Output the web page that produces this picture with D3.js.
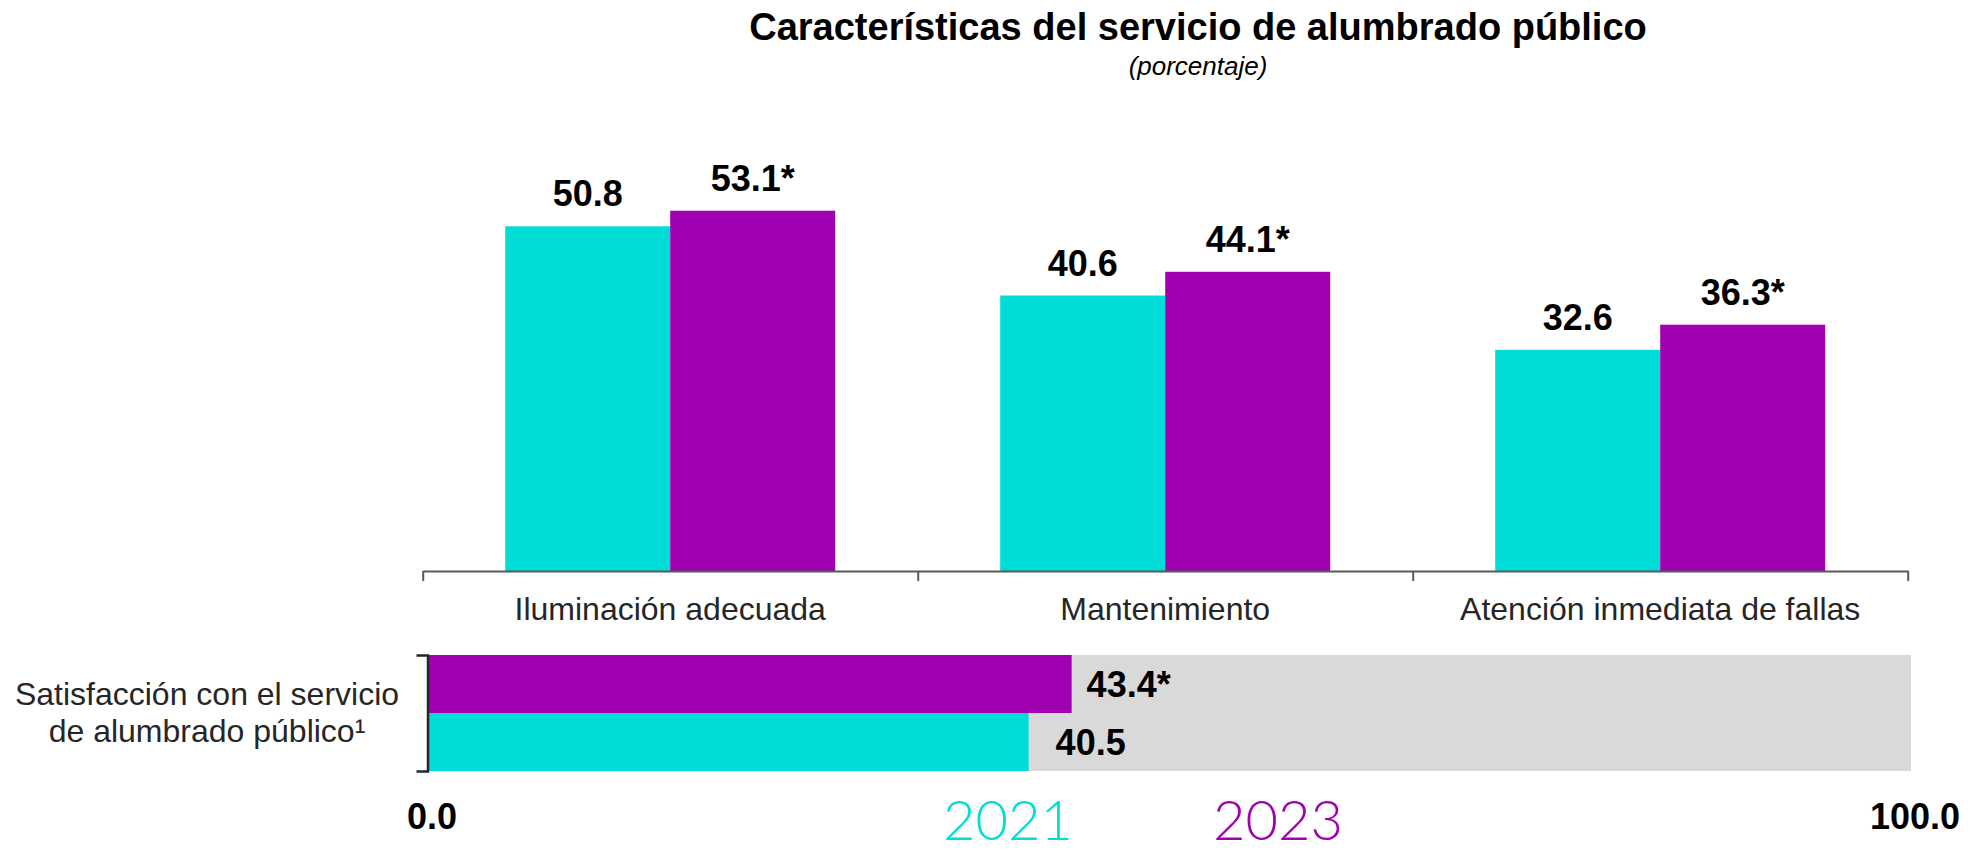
<!DOCTYPE html>
<html>
<head>
<meta charset="utf-8">
<script src="https://cdn.jsdelivr.net/npm/d3@7"></script>
<style>
  html, body { margin: 0; padding: 0; background: #fff; }
  svg { display: block; }
</style>
</head>
<body>
<svg id="chart" width="1974" height="852"></svg>
<script>
// ---- data ----
const title = "Características del servicio de alumbrado público";
const subtitle = "(porcentaje)";
const categories = ["Iluminación adecuada", "Mantenimiento", "Atención inmediata de fallas"];
const years = ["2021", "2023"];
const values2021 = [50.8, 40.6, 32.6];
const values2023 = [53.1, 44.1, 36.3];
const significant2023 = [true, true, true];
const satisfactionLabel = ["Satisfacción con el servicio", "de alumbrado público¹"];
const satisfactionYears = ["2023", "2021"];
const satisfactionValues = [43.4, 40.5];
const satisfactionSignificant = [true, false];
const satisfactionTicks = [0, 100];

// ---- styles ----
const colors = { "2021": "#00DDD6", "2023": "#A000AF" };
const FONT = "'Liberation Sans', Arial, sans-serif";

const svg = d3.select("#chart");

// Title
svg.append("text").attr("x", 1198).attr("y", 40).attr("text-anchor", "middle")
  .attr("font-family", FONT).attr("font-weight", "bold").attr("font-size", 38)
  .attr("fill", "#000").text(title);
svg.append("text").attr("x", 1198).attr("y", 75).attr("text-anchor", "middle")
  .attr("font-family", FONT).attr("font-style", "italic").attr("font-size", 26)
  .attr("fill", "#000").text(subtitle);

// ---- top grouped bars ----
const x0 = d3.scaleBand().domain(categories).range([422.7, 1907.7]).padding(0);
const x1 = d3.scaleBand().domain(years).range([0, x0.bandwidth()]).paddingInner(0).paddingOuter(0.5);
const y = d3.scaleLinear().domain([0, 60]).range([571, 571 - 60 * 6.785]);

const rows = categories.map((c, i) => ({
  cat: c,
  vals: [
    { year: "2021", v: values2021[i], label: d3.format(".1f")(values2021[i]) },
    { year: "2023", v: values2023[i], label: d3.format(".1f")(values2023[i]) + (significant2023[i] ? "*" : "") }
  ]
}));

const g = svg.append("g");
const grp = g.selectAll("g.cat").data(rows).join("g")
  .attr("class", "cat").attr("transform", d => `translate(${x0(d.cat)},0)`);
grp.selectAll("rect").data(d => d.vals).join("rect")
  .attr("x", d => x1(d.year)).attr("width", x1.bandwidth())
  .attr("y", d => y(d.v)).attr("height", d => y(0) - y(d.v))
  .attr("fill", d => colors[d.year]);
grp.selectAll("text.val").data(d => d.vals).join("text")
  .attr("class", "val")
  .attr("x", d => x1(d.year) + x1.bandwidth() / 2)
  .attr("y", d => y(d.v) - 20)
  .attr("text-anchor", "middle")
  .attr("font-family", FONT).attr("font-weight", "bold").attr("font-size", 36)
  .attr("fill", "#000").text(d => d.label);

// category axis: ticks at boundaries
const xi = d3.scaleLinear().domain([0, categories.length]).range(x0.range());
const axisG = svg.append("g").attr("transform", `translate(0,${y(0)})`)
  .call(d3.axisBottom(xi).tickValues(d3.range(categories.length + 1)).tickFormat("").tickSize(10).tickSizeOuter(0));
axisG.selectAll("path, line").attr("stroke", "#595959").attr("stroke-width", 2);

svg.append("g").selectAll("text").data(categories).join("text")
  .attr("x", d => x0(d) + x0.bandwidth() / 2).attr("y", 620)
  .attr("text-anchor", "middle")
  .attr("font-family", FONT).attr("font-size", 32).attr("fill", "#262626")
  .text(d => d);

// ---- bottom horizontal bar ----
const xs = d3.scaleLinear().domain([0, 100]).range([428, 1911]);
const ys = d3.scaleBand().domain(satisfactionYears).range([655, 771]).padding(0);

svg.append("rect").attr("x", xs(0)).attr("y", ys.range()[0])
  .attr("width", xs(100) - xs(0)).attr("height", ys.range()[1] - ys.range()[0])
  .attr("fill", "#D9D9D9");

const sdata = satisfactionYears.map((yr, i) => ({
  year: yr, v: satisfactionValues[i],
  label: d3.format(".1f")(satisfactionValues[i]) + (satisfactionSignificant[i] ? "*" : ""),
  off: yr === "2023" ? 15 : 27
}));
svg.append("g").selectAll("rect").data(sdata).join("rect")
  .attr("x", xs(0)).attr("y", d => ys(d.year))
  .attr("width", d => xs(d.v) - xs(0)).attr("height", ys.bandwidth())
  .attr("fill", d => colors[d.year]);
svg.append("g").selectAll("text").data(sdata).join("text")
  .attr("x", d => xs(d.v) + d.off).attr("y", d => ys(d.year) + ys.bandwidth() / 2 + 13)
  .attr("font-family", FONT).attr("font-weight", "bold").attr("font-size", 36)
  .attr("fill", "#000").text(d => d.label);

// bracket
const br = svg.append("g").attr("transform", `translate(${xs(0) - 0.5},0)`)
  .call(d3.axisLeft(ys).tickValues([]).tickSizeOuter(11));
br.selectAll("path").attr("stroke", "#262626").attr("stroke-width", 2.5);

// left label
const ll = svg.append("text").attr("text-anchor", "middle")
  .attr("font-family", FONT).attr("font-size", 32).attr("fill", "#262626");
ll.selectAll("tspan").data(satisfactionLabel).join("tspan")
  .attr("x", 207).attr("y", (d, i) => 705 + i * 37).text(d => d);

// bottom scale labels
const bAxis = svg.append("g").attr("transform", `translate(4,0)`);
bAxis.selectAll("text").data(satisfactionTicks).join("text")
  .attr("x", d => xs(d)).attr("y", 829).attr("text-anchor", "middle")
  .attr("font-family", FONT).attr("font-weight", "bold").attr("font-size", 36)
  .attr("fill", "#000").text(d => d3.format(".1f")(d));

// legend
const legendX = { "2021": 1008, "2023": 1278 };
svg.append("g").selectAll("text").data(years).join("text")
  .attr("x", d => legendX[d]).attr("y", 840).attr("text-anchor", "middle")
  .attr("font-family", "Lato, 'Open Sans', sans-serif").attr("font-weight", 300).attr("font-size", 56)
  .attr("fill", d => colors[d]).text(d => d);
</script>
</body>
</html>
